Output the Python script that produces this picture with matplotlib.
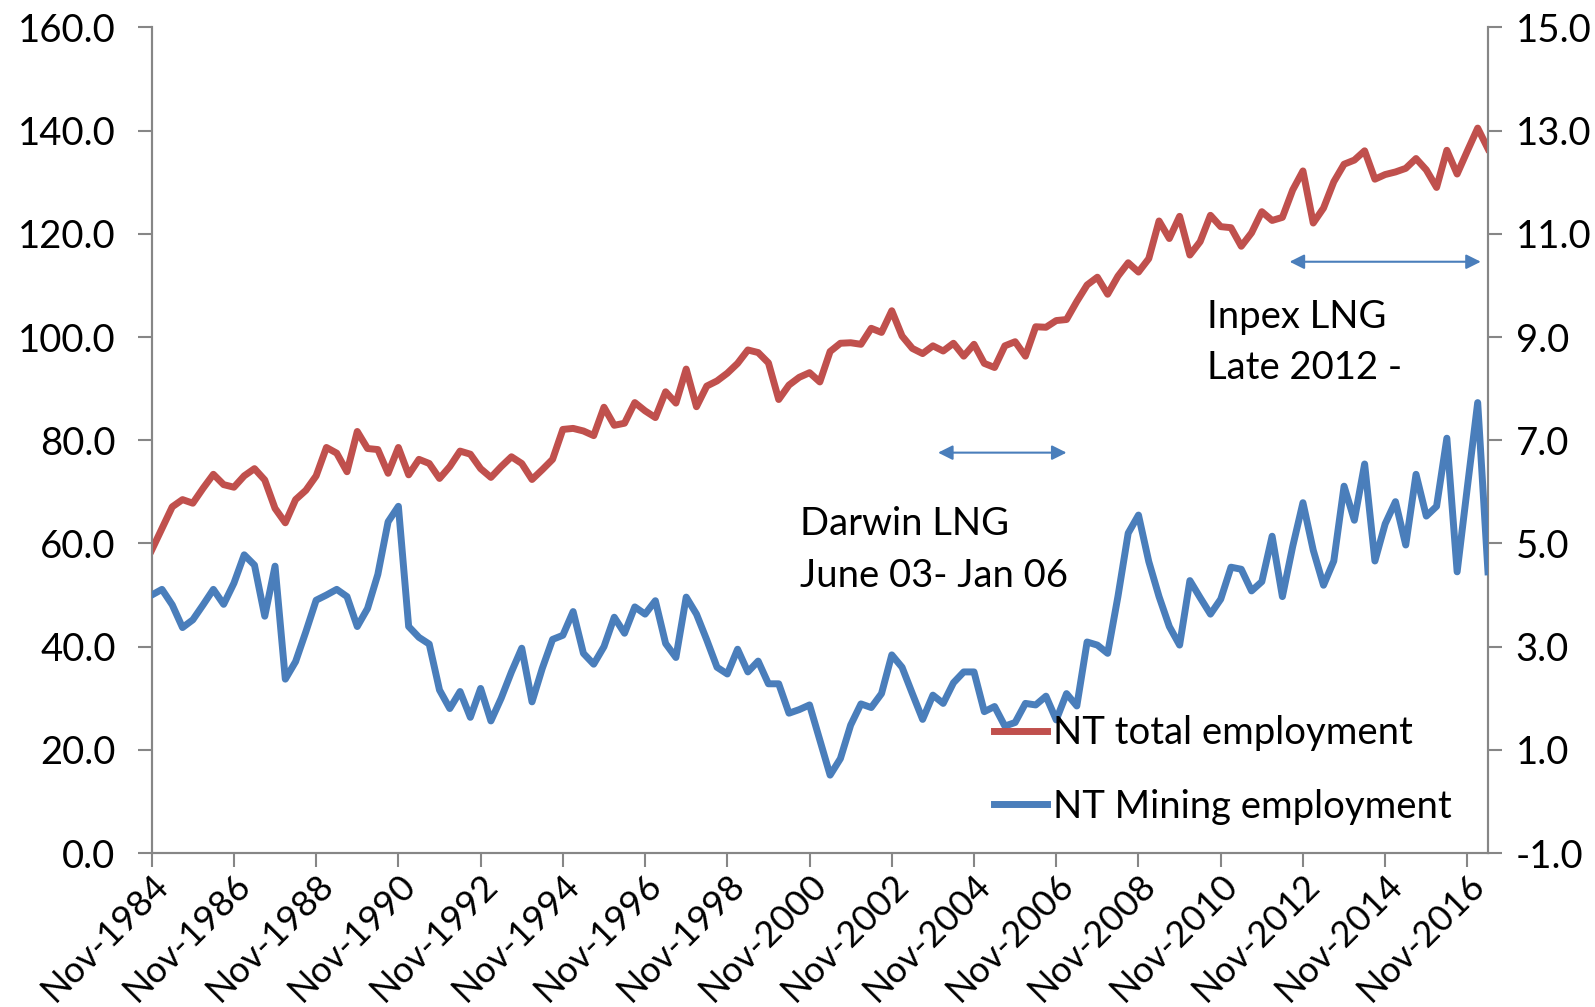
import matplotlib
matplotlib.use("Agg")
import matplotlib.pyplot as plt
from matplotlib.lines import Line2D

# Quarterly data, Nov-1984 .. May-2017
total_employment = [
    58.7, 62.9, 67.1, 68.5, 67.8, 70.7, 73.4, 71.4, 70.9, 73.1,
    74.5, 72.3, 66.8, 64.0, 68.5, 70.3, 73.1, 78.6, 77.5, 73.9,
    81.7, 78.4, 78.2, 73.6, 78.6, 73.3, 76.3, 75.5, 72.6, 74.9,
    77.9, 77.3, 74.5, 72.8, 74.9, 76.8, 75.5, 72.4, 74.3, 76.3,
    82.1, 82.3, 81.8, 80.9, 86.4, 82.9, 83.3, 87.3, 85.7, 84.4,
    89.4, 87.2, 93.8, 86.5, 90.5, 91.5, 93.0, 94.9, 97.5, 97.0,
    95.0, 87.9, 90.7, 92.2, 93.1, 91.3, 97.2, 98.8, 98.9, 98.6,
    101.7, 100.9, 105.1, 100.2, 97.8, 96.8, 98.3, 97.3, 98.8, 96.3,
    98.6, 94.9, 94.1, 98.3, 99.1, 96.3, 102.0, 101.9, 103.2, 103.4,
    106.9, 110.1, 111.6, 108.3, 111.8, 114.4, 112.6, 115.2, 122.5, 119.1,
    123.4, 115.9, 118.5, 123.6, 121.4, 121.2, 117.6, 120.2, 124.3, 122.6,
    123.2, 128.5, 132.2, 122.1, 125.0, 130.1, 133.5, 134.3, 136.1, 130.6,
    131.5, 132.0, 132.7, 134.6, 132.4, 129.0, 136.2, 131.6, 136.1, 140.5,
    136.5,
]

mining_employment = [
    4.00, 4.11, 3.81, 3.37, 3.52, 3.81, 4.11, 3.82, 4.23, 4.78,
    4.58, 3.59, 4.56, 2.37, 2.71, 3.29, 3.90, 4.00, 4.11, 3.97,
    3.39, 3.74, 4.40, 5.42, 5.72, 3.39, 3.18, 3.05, 2.16, 1.80,
    2.13, 1.63, 2.19, 1.56, 2.00, 2.51, 2.97, 1.93, 2.58, 3.14,
    3.22, 3.68, 2.87, 2.66, 3.00, 3.57, 3.26, 3.77, 3.63, 3.89,
    3.06, 2.79, 3.96, 3.63, 3.13, 2.60, 2.47, 2.95, 2.51, 2.72,
    2.28, 2.28, 1.71, 1.78, 1.87, 1.19, 0.51, 0.83, 1.48, 1.89,
    1.82, 2.09, 2.84, 2.60, 2.09, 1.59, 2.06, 1.90, 2.30, 2.51,
    2.51, 1.74, 1.84, 1.46, 1.53, 1.90, 1.87, 2.04, 1.58, 2.09,
    1.85, 3.09, 3.03, 2.87, 3.97, 5.20, 5.55, 4.65, 3.97, 3.39,
    3.03, 4.28, 3.95, 3.63, 3.92, 4.54, 4.50, 4.08, 4.26, 5.14,
    3.97, 4.94, 5.79, 4.87, 4.19, 4.66, 6.11, 5.45, 6.54, 4.66,
    5.38, 5.81, 4.97, 6.34, 5.53, 5.72, 7.04, 4.45, 6.10, 7.73,
    4.45,
]

tick_labels = ["Nov-1984", "Nov-1986", "Nov-1988", "Nov-1990", "Nov-1992",
               "Nov-1994", "Nov-1996", "Nov-1998", "Nov-2000", "Nov-2002",
               "Nov-2004", "Nov-2006", "Nov-2008", "Nov-2010", "Nov-2012",
               "Nov-2014", "Nov-2016"]
tick_step = 8  # quarters between labels

series_names = ["NT total employment", "NT Mining employment"]
left_ticks = [0, 20, 40, 60, 80, 100, 120, 140, 160]
right_ticks = [-1, 1, 3, 5, 7, 9, 11, 13, 15]

RED = "#C0504D"
BLUE = "#4A7EBB"
GRAY = "#868686"
FONT = ["Lato", "DejaVu Sans"]
FS = 27.5
XFS = 26

plt.rcParams["font.family"] = FONT

fig = plt.figure(figsize=(15.95, 10.07), dpi=100)
ax = fig.add_axes([0.0951, 0.1529, 0.8378, 0.8198])
ax2 = ax.twinx()

x = list(range(len(total_employment)))
ax.plot(x, total_employment, color=RED, lw=5, solid_joinstyle="round", zorder=3)
ax2.plot(x, mining_employment, color=BLUE, lw=5, solid_joinstyle="round", zorder=3)

ax.set_xlim(0, len(x) - 1)
ax.set_ylim(0, 160)
ax2.set_ylim(-1, 15)
ax.set_yticks(left_ticks)
ax.set_yticklabels([f"{v:.1f}" for v in left_ticks])
ax2.set_yticks(right_ticks)
ax2.set_yticklabels([f"{v:.1f}" for v in right_ticks])

ax.set_xticks([i * tick_step for i in range(len(tick_labels))])
ax.set_xticklabels(tick_labels, rotation=45, ha="right", va="top",
                   rotation_mode="anchor")

for a in (ax, ax2):
    for s in a.spines.values():
        s.set_color(GRAY)
        s.set_linewidth(1.5)
    a.spines["top"].set_visible(False)
    a.tick_params(colors=GRAY, labelcolor="black", labelsize=FS,
                  length=10, width=1.5, direction="out")
ax.tick_params(axis="y", pad=16)
ax2.tick_params(axis="y", pad=10)
ax.tick_params(axis="x", pad=1, labelsize=XFS)

# Annotations
arrow_kw = dict(arrowstyle="<|-|>", color=BLUE, lw=1.5,
                mutation_scale=22, shrinkA=0, shrinkB=0)
ax.annotate("", xy=(76.5, 77.6), xytext=(89.0, 77.6), arrowprops=arrow_kw)
ax.annotate("", xy=(110.7, 114.6), xytext=(129.3, 114.6), arrowprops=arrow_kw)
ax.text(63.1, 58.7, "Darwin LNG\nJune 03- Jan 06", fontsize=FS, ha="left",
        va="center", linespacing=1.55)
ax.text(102.7, 98.9, "Inpex LNG\nLate 2012 -", fontsize=FS, ha="left",
        va="center", linespacing=1.5)

handles = [Line2D([], [], color=RED, lw=5), Line2D([], [], color=BLUE, lw=5)]
leg = ax2.legend(handles, series_names, loc="center left",
                 bbox_to_anchor=(0.630, 0.1005), frameon=False, fontsize=FS,
                 handlelength=1.4, handletextpad=0.15, labelspacing=0.98,
                 borderpad=0, borderaxespad=0)
leg.set_zorder(5)

fig.savefig("out.png", dpi=100)
